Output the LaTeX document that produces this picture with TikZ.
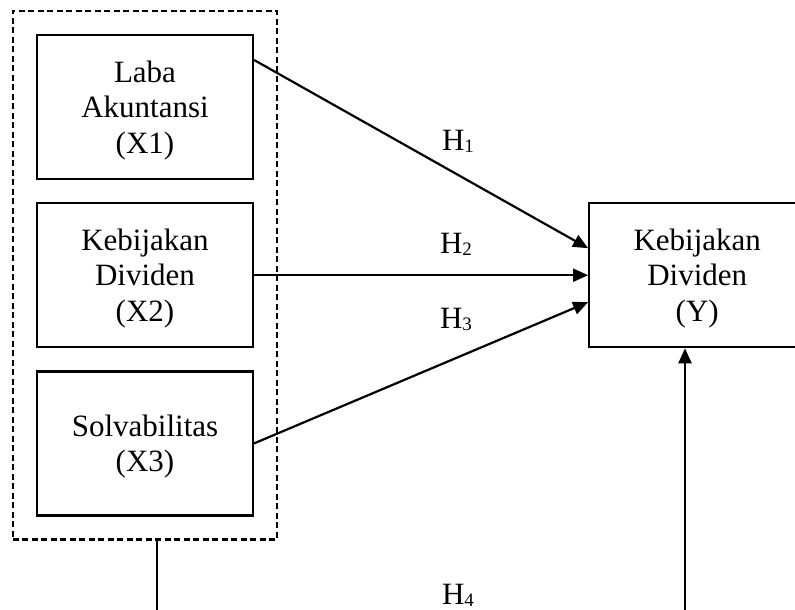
\documentclass[tikz,border=0pt]{standalone}
\usepackage{fontspec}
\setmainfont{Liberation Serif}
\usetikzlibrary{arrows.meta,positioning,fit}

\newcommand{\hyp}[1]{H\raisebox{-2.5pt}{\fontsize{19}{19}\selectfont#1}}

\begin{document}
\begin{tikzpicture}[x=1pt,y=-1pt,>={Triangle[length=15pt,width=13pt]},line width=2.2pt,node distance=22pt,
    var/.style={draw,minimum width=216pt,minimum height=144pt,align=center,text depth=0pt,font=\fontsize{31}{35.5}\selectfont},
    hyplabel/.style={anchor=base,font=\fontsize{31}{35.5}\selectfont}]

    \useasboundingbox (0,0) rectangle (795,610);

    \node[var] (x1) at (145,107) {Laba\\Akuntansi\\(X1)};

    \node[var] (x2) [below=of x1] {Kebijakan\\Dividen\\(X2)};

    \node[var] (x3) [below=of x2] {Solvabilitas\\(X3)};

    \node[var] (y) [right=334pt of x2] {Kebijakan\\Dividen\\(Y)};

    \node[draw,dash pattern=on 6pt off 3.5pt,inner sep=23pt,fit=(x1)(x3)] (grp) {};

    % hypotheses
    \node[hyplabel] (h1) at (458,150) {\hyp{1}};
    \node[hyplabel] (h2) at (456,253) {\hyp{2}};
    \node[hyplabel] (h3) at (456,328) {\hyp{3}};
    \node[hyplabel] (h4) at (458,604) {\hyp{4}};

    \coordinate (b1) at (157,614);
    \coordinate (b2) at (685,614);

    \draw[->] ([yshift=47pt]x1.east) -- ([yshift=27pt]y.west);
    \draw[->] (x2.east) -- (y.west);
    \draw[->] (x3.east) -- ([yshift=-27pt]y.west);
    \draw (b1 |- grp.south) -- (b1);
    \draw[->] (b2) -- (b2 |- y.south);

\end{tikzpicture}
\end{document}
